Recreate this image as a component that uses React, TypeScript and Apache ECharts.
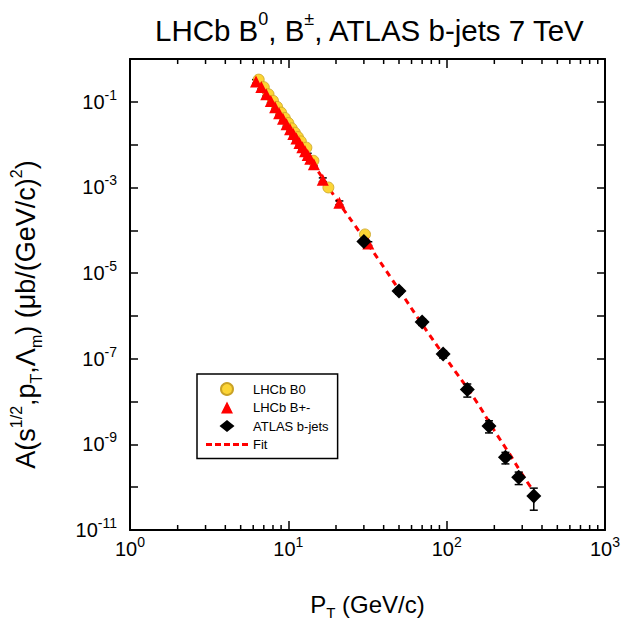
import React, { useEffect, useRef } from "react";
import * as echarts from "echarts";

const FONT = "'Liberation Sans', Arial, sans-serif";

// LHCb B0 (pT in GeV/c, A in μb/(GeV/c)^2)
const b0Pt = [6.5, 7.0, 7.5, 8.0, 8.5, 9.0, 9.5, 10.0, 10.5, 11.0, 11.5, 12.0, 13.0, 14.4, 17.9, 30.5];
const b0A = [0.33, 0.22, 0.15, 0.106, 0.076, 0.056, 0.042, 0.032, 0.024, 0.019, 0.015, 0.0119, 0.0085, 0.0042, 0.001, 8.0e-5];

// LHCb B+-
const bpmPt = [6.25, 6.75, 7.25, 7.75, 8.25, 8.75, 9.25, 9.75, 10.25, 10.75, 11.25, 11.75, 12.25, 12.75, 13.25, 13.75, 14.5, 16.5, 21, 32];
const bpmA = [0.3, 0.222, 0.151, 0.105, 0.0747, 0.0542, 0.0401, 0.0301, 0.023, 0.0177, 0.0139, 0.0109, 0.00873, 0.00703, 0.0057, 0.00466, 0.00349, 0.00152, 4.4e-4, 4.9e-5];

// ATLAS b-jets
const atlasPt = [30, 50, 70, 95, 135, 185, 235, 285, 355];
const atlasA = [5.5e-5, 3.8e-6, 7.2e-7, 1.29e-7, 1.92e-8, 2.7e-9, 5.0e-10, 1.7e-10, 6.2e-11];
const atlasErr = [0.8e-5, 0.6e-6, 1.2e-7, 0.25e-7, 0.65e-8, 0.85e-9, 1.5e-10, 0.55e-10, 3.3e-11];

// Fit curve
const fitPt = [6.25, 8, 10, 15, 20, 30, 50, 70, 100, 150, 200, 250, 300, 340];
const fitA = [0.31, 0.08, 0.027, 0.0028, 5.5e-4, 6.5e-5, 4.1e-6, 6.4e-7, 9.7e-8, 1.16e-8, 2.1e-9, 5.9e-10, 2.0e-10, 1.0e-10];

// relative error of LHCb points
const lhcbRelErr = 0.1;

// minor ticks on the x axis
const xMinorTicks = [2, 3, 4, 5, 6, 7, 8, 9, 20, 30, 40, 50, 60, 70, 80, 90, 200, 300, 400, 500, 600, 700, 800, 900];

const seriesNames = ["LHCb B0", "LHCb B+-", "ATLAS b-jets", "Fit"];

const Y_MIN = 1e-11;
const Y_MAX = 1;

export default function App() {
  const ref = useRef<HTMLDivElement>(null);
  useEffect(() => {
    if (!ref.current) return;
    const chart = echarts.init(ref.current, undefined, { renderer: "svg" });

    const errData: number[][] = [];
    b0Pt.forEach((x, i) => errData.push([x, b0A[i], b0A[i] * (1 - lhcbRelErr), b0A[i] * (1 + lhcbRelErr)]));
    bpmPt.forEach((x, i) => errData.push([x, bpmA[i], bpmA[i] * (1 - lhcbRelErr), bpmA[i] * (1 + lhcbRelErr)]));
    atlasPt.forEach((x, i) => errData.push([x, atlasA[i], atlasA[i] - atlasErr[i], atlasA[i] + atlasErr[i]]));

    const expLabel = (v: number) => {
      const e = Math.round(Math.log10(v));
      return `{b|10}{s|${e}}`;
    };
    const labelRich = {
      b: { fontSize: 20, fontFamily: FONT, color: "#000", lineHeight: 28, verticalAlign: "middle" },
      s: { fontSize: 14, fontFamily: FONT, color: "#000", lineHeight: 14, verticalAlign: "top" },
    };
    const axisLine = { show: true, onZero: false, lineStyle: { color: "#000", width: 2 } };
    // legend icons drawn in a 42x12 box so that they are not stretched
    const pad = "M0,0L0.01,0L0,0.01Z M42,12L41.99,12L42,11.99Z ";
    const triIcon = "path://" + pad + "M15,12L21,0L27,12Z";
    const diaIcon = "path://" + pad + "M13.5,6L21,0L28.5,6L21,12Z";
    const dashIcon = "path://M0,4.5h6v3h-6z M9,4.5h6v3h-6z M18,4.5h6v3h-6z M27,4.5h6v3h-6z M36,4.5h6v3h-6z " + pad;

    const option: any = {
      animation: false,
      backgroundColor: "#fff",
      title: {
        text: "{t|LHCb B}{u|0}{t|, B}{u|±}{t|, ATLAS b-jets 7 TeV}",
        left: 150,
        top: 5,
        textStyle: {
          rich: {
            t: { fontSize: 29.5, fontWeight: "normal", fontFamily: FONT, color: "#000", lineHeight: 40, verticalAlign: "middle" },
            u: { fontSize: 18, fontWeight: "normal", fontFamily: FONT, color: "#000", lineHeight: 18, verticalAlign: "top" },
          },
        },
      },
      legend: {
        left: 197,
        top: 374,
        orient: "vertical",
        itemWidth: 42,
        itemHeight: 12,
        itemGap: 4.5,
        padding: [8, 9, 7, 9],
        borderColor: "#000",
        borderWidth: 1.5,
        backgroundColor: "#fff",
        symbolKeepAspect: true,
        textStyle: { fontFamily: FONT, fontSize: 13, color: "#000", lineHeight: 14 },
        data: [
          { name: seriesNames[0], icon: "circle" },
          { name: seriesNames[1], icon: triIcon },
          { name: seriesNames[2], icon: diaIcon },
          { name: seriesNames[3], icon: dashIcon, itemStyle: { color: "#ff0000" } },
        ],
      },
      grid: { left: 130, right: 21, top: 59, bottom: 91, containLabel: false },
      xAxis: [
        {
          type: "log",
          logBase: 10,
          min: 1,
          max: 1000,
          interval: 1,
          position: "bottom",
          axisLine,
          axisTick: { show: true, inside: true, length: 9, lineStyle: { color: "#000", width: 1.5 } },
          splitLine: { show: false },
          axisLabel: { formatter: expLabel, rich: labelRich, margin: 5 },
          name: "{m|P}{d|T}{m| (GeV/c)}",
          nameLocation: "middle",
          nameGap: 58,
          nameTextStyle: {
            rich: {
              m: { fontSize: 24, fontFamily: FONT, color: "#000", lineHeight: 32, verticalAlign: "middle" },
              d: { fontSize: 15, fontFamily: FONT, color: "#000", lineHeight: 14, verticalAlign: "bottom" },
            },
          },
        },
        {
          type: "log",
          logBase: 10,
          min: 1,
          max: 1000,
          interval: 1,
          position: "top",
          axisLine,
          axisTick: { show: true, inside: true, length: 9, lineStyle: { color: "#000", width: 1.5 } },
          splitLine: { show: false },
          axisLabel: { show: false },
        },
      ],
      yAxis: [
        {
          type: "log",
          logBase: 10,
          min: Y_MIN,
          max: Y_MAX,
          interval: 1,
          position: "left",
          axisLine,
          axisTick: { show: true, inside: true, length: 8, lineStyle: { color: "#000", width: 1.5 } },
          splitLine: { show: false },
          axisLabel: {
            formatter: (v: number) => {
              const e = Math.round(Math.log10(v));
              if (e % 2 === 0) return "";
              return expLabel(v);
            },
            rich: labelRich,
            margin: 13,
          },
          name: "{m|A(s}{u|1/2}{m|,p}{d|T}{m|,Λ}{d|m}{m|) (μb/(GeV/c)}{u|2}{m|)}",
          nameLocation: "middle",
          nameRotate: 90,
          nameGap: 86,
          nameTextStyle: {
            padding: [0, 40, 0, 0],
            rich: {
              m: { fontSize: 27, fontFamily: FONT, color: "#000", lineHeight: 36, verticalAlign: "middle" },
              u: { fontSize: 16, fontFamily: FONT, color: "#000", lineHeight: 16, verticalAlign: "top" },
              d: { fontSize: 16, fontFamily: FONT, color: "#000", lineHeight: 16, verticalAlign: "bottom" },
            },
          },
        },
        {
          type: "log",
          logBase: 10,
          min: Y_MIN,
          max: Y_MAX,
          interval: 1,
          position: "right",
          axisLine,
          axisTick: { show: true, inside: true, length: 8, lineStyle: { color: "#000", width: 1.5 } },
          splitLine: { show: false },
          axisLabel: { show: false },
        },
      ],
      series: [
        {
          name: "minorTicks",
          type: "custom",
          silent: true,
          z: 5,
          clip: false,
          data: xMinorTicks.map((v) => [v, 1e-5]),
          encode: { x: 0, y: 1 },
          renderItem: (params: any, api: any) => {
            const x = api.value(0);
            const pb = api.coord([x, Y_MIN]);
            const pt = api.coord([x, Y_MAX]);
            const st = { stroke: "#000", lineWidth: 1.5 };
            return {
              type: "group",
              children: [
                { type: "line", shape: { x1: pb[0], y1: pb[1], x2: pb[0], y2: pb[1] - 5 }, style: st },
                { type: "line", shape: { x1: pt[0], y1: pt[1], x2: pt[0], y2: pt[1] + 5 }, style: st },
              ],
            };
          },
        },
        {
          name: "Fit",
          type: "line",
          z: 2,
          data: fitPt.map((x, i) => [x, fitA[i]]),
          showSymbol: false,
          symbol: "none",
          smooth: true,
          lineStyle: { color: "#ff0000", width: 3, type: [6, 5] },
          itemStyle: { color: "#ff0000" },
        },
        {
          name: "errorBars",
          type: "custom",
          silent: true,
          z: 3,
          data: errData,
          encode: { x: 0, y: 1 },
          renderItem: (params: any, api: any) => {
            const x = api.value(0);
            const p1 = api.coord([x, api.value(2)]);
            const p2 = api.coord([x, api.value(3)]);
            const w = 4;
            const st = { stroke: "#000", lineWidth: 1.5 };
            return {
              type: "group",
              children: [
                { type: "line", shape: { x1: p1[0], y1: p1[1], x2: p2[0], y2: p2[1] }, style: st },
                { type: "line", shape: { x1: p1[0] - w, y1: p1[1], x2: p1[0] + w, y2: p1[1] }, style: st },
                { type: "line", shape: { x1: p2[0] - w, y1: p2[1], x2: p2[0] + w, y2: p2[1] }, style: st },
              ],
            };
          },
        },
        {
          name: "LHCb B0",
          type: "scatter",
          z: 4,
          symbol: "circle",
          symbolSize: 11,
          data: b0Pt.map((x, i) => [x, b0A[i]]),
          itemStyle: { color: "#FCD535", borderColor: "#C9A227", borderWidth: 0.8, opacity: 1 },
        },
        {
          name: "LHCb B+-",
          type: "scatter",
          z: 4,
          symbol: "triangle",
          symbolSize: 12,
          data: bpmPt.map((x, i) => [x, bpmA[i]]),
          itemStyle: { color: "#ff0000", opacity: 1 },
        },
        {
          name: "ATLAS b-jets",
          type: "scatter",
          z: 4,
          symbol: "diamond",
          symbolSize: 15,
          data: atlasPt.map((x, i) => [x, atlasA[i]]),
          itemStyle: { color: "#000", opacity: 1 },
        },
      ],
    };
    chart.setOption(option);
    return () => chart.dispose();
  }, []);
  return <div ref={ref} style={{ width: 626, height: 625, position: "absolute", left: 0, top: 0 }} />;
}
